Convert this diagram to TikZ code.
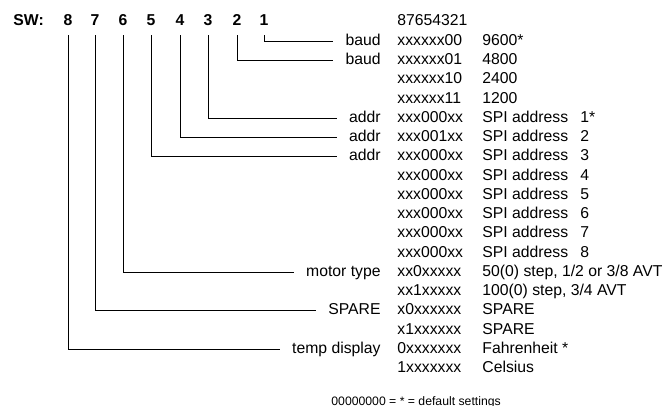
\documentclass[tikz,border=0pt]{standalone}
\usepackage{fontspec}
\setmainfont{Liberation Sans}
\usetikzlibrary{positioning}
\newcommand\rowfont{\fontsize{11.2pt}{13pt}\selectfont}
\newcommand\notefont{\fontsize{8.7pt}{10pt}\selectfont}
\tikzset{txt/.style = {font=\rowfont, inner xsep=0pt, inner ysep=0pt,
                       text height=8.5pt, text depth=2.7pt},
         head/.style = {txt, font=\rowfont\bfseries, inner ysep=0.15cm},
         lbl/.style  = {txt, anchor=east, inner xsep=0.3cm},
         code/.style = {txt, anchor=west}}

\begin{document}
\begin{tikzpicture}[x=0.025cm, y=-0.025cm, line width=0.6pt]
      \useasboundingbox (0,0) rectangle (663,406);

      % switch numbers
      \node [head, anchor=west] (sw) at (13,21) {SW:};
      \node [head] (sw8) at (68,21) {8};
      \node [head] (sw7) at (95,21) {7};
      \node [head] (sw6) at (123,21) {6};
      \node [head] (sw5) at (151,21) {5};
      \node [head] (sw4) at (180,21) {4};
      \node [head] (sw3) at (208,21) {3};
      \node [head] (sw2) at (237,21) {2};
      \node [head] (sw1) at (264,21) {1};
      \node [code] (bits) at (397,21) {87654321};

      % labels
      \node [lbl] (baudA) at (393,41.25) {baud};
      \node [lbl] (baudB) at (393,60.5) {baud};
      \node [lbl] (addrA) at (393,118.25) {addr};
      \node [lbl] (addrB) at (393,137.5) {addr};
      \node [lbl] (addrC) at (393,156.75) {addr};
      \node [lbl] (motor) at (393,272.25) {motor type};
      \node [lbl] (spare) at (393,310.75) {SPARE};
      \node [lbl] (temp) at (393,349.25) {temp display};

      % bit patterns
      \node [code] (c1) at (397,41.25) {xxxxxx00};
      \node [code] (c2) at (397,60.5) {xxxxxx01};
      \node [code] (c3) at (397,79.75) {xxxxxx10};
      \node [code] (c4) at (397,99) {xxxxxx11};
      \node [code] (c5) at (397,118.25) {xxx000xx};
      \node [code] (c6) at (397,137.5) {xxx001xx};
      \node [code] (c7) at (397,156.75) {xxx000xx};
      \node [code] (c8) at (397,176) {xxx000xx};
      \node [code] (c9) at (397,195.25) {xxx000xx};
      \node [code] (c10) at (397,214.5) {xxx000xx};
      \node [code] (c11) at (397,233.75) {xxx000xx};
      \node [code] (c12) at (397,253) {xxx000xx};
      \node [code] (c13) at (397,272.25) {xx0xxxxx};
      \node [code] (c14) at (397,291.5) {xx1xxxxx};
      \node [code] (c15) at (397,310.75) {x0xxxxxx};
      \node [code] (c16) at (397,330) {x1xxxxxx};
      \node [code] (c17) at (397,349.25) {0xxxxxxx};
      \node [code] (c18) at (397,368.5) {1xxxxxxx};

      % meanings
      \node [code] (v1) at (482,41.25) {9600*};
      \node [code] (v2) at (482,60.5) {4800};
      \node [code] (v3) at (482,79.75) {2400};
      \node [code] (v4) at (482,99) {1200};
      \node [code] (v5) at (482,118.25) {SPI address};
      \node [code] (v6) at (482,137.5) {SPI address};
      \node [code] (v7) at (482,156.75) {SPI address};
      \node [code] (v8) at (482,176) {SPI address};
      \node [code] (v9) at (482,195.25) {SPI address};
      \node [code] (v10) at (482,214.5) {SPI address};
      \node [code] (v11) at (482,233.75) {SPI address};
      \node [code] (v12) at (482,253) {SPI address};
      \node [code] (v13) at (482,272.25) {50(0) step, 1/2 or 3/8 AVT};
      \node [code] (v14) at (482,291.5) {100(0) step, 3/4 AVT};
      \node [code] (v15) at (482,310.75) {SPARE};
      \node [code] (v16) at (482,330) {SPARE};
      \node [code] (v17) at (482,349.25) {Fahrenheit *};
      \node [code] (v18) at (482,368.5) {Celsius};

      % address numbers
      \node [code] (n1) at (580,118.25) {1*};
      \node [code] (n2) at (580,137.5) {2};
      \node [code] (n3) at (580,156.75) {3};
      \node [code] (n4) at (580,176) {4};
      \node [code] (n5) at (580,195.25) {5};
      \node [code] (n6) at (580,214.5) {6};
      \node [code] (n7) at (580,233.75) {7};
      \node [code] (n8) at (580,253) {8};

      \node [txt, font=\notefont, anchor=west] (note) at (331,401) {00000000 = * = default settings};

      % switch lines
      \draw (sw1) |- (baudA.west);
      \draw (sw2) |- (baudB.west);
      \draw (sw3) |- (addrA.west);
      \draw (sw4) |- (addrB.west);
      \draw (sw5) |- (addrC.west);
      \draw (sw6) |- (motor.west);
      \draw (sw7) |- (spare.west);
      \draw (sw8) |- (temp.west);
    \end{tikzpicture}
\end{document}
